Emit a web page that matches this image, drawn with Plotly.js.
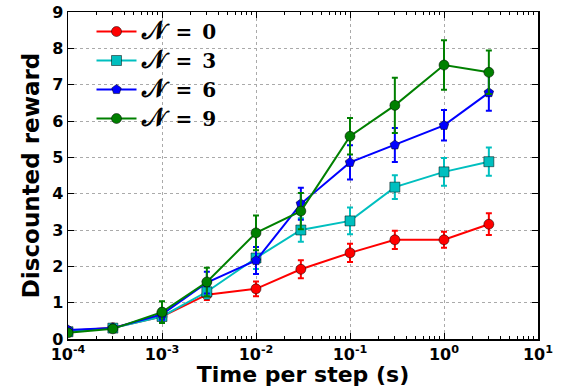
<!DOCTYPE html>
<html><head><meta charset="utf-8">
<script src="https://cdn.plot.ly/plotly-3.0.1.min.js"></script>
<style>body{margin:0;background:#fff}#c{width:563px;height:387px}</style>
</head><body><div id="c"></div>
<script>
const times = [1e-4, 3e-4, 1e-3, 3e-3, 1e-2, 3e-2, 1e-1, 3e-1, 1, 3];
const n0 = [0.22, 0.31, 0.62, 1.22, 1.38, 1.92, 2.37, 2.73, 2.73, 3.16];
const n0err = [0.08, 0.08, 0.1, 0.15, 0.2, 0.25, 0.25, 0.25, 0.22, 0.3];
const n3 = [0.2, 0.3, 0.62, 1.3, 2.23, 3.0, 3.25, 4.18, 4.6, 4.88];
const n3err = [0.06, 0.08, 0.12, 0.18, 0.3, 0.32, 0.37, 0.33, 0.38, 0.39];
const n6 = [0.25, 0.3, 0.68, 1.55, 2.16, 3.72, 4.86, 5.34, 5.88, 6.78];
const n6err = [0.06, 0.08, 0.15, 0.3, 0.37, 0.44, 0.47, 0.47, 0.42, 0.5];
const n9 = [0.17, 0.28, 0.74, 1.57, 2.92, 3.52, 5.58, 6.43, 7.54, 7.34];
const n9err = [0.06, 0.08, 0.3, 0.39, 0.48, 0.5, 0.5, 0.76, 0.68, 0.6];
const nValues = ['0', '3', '6', '9'];
const names = nValues.map(v => '<span style="font-size:25px">𝒩</span>\u2002=\u2002' + v);
const colors = ['#ff0000', '#00bfbf', '#0000ff', '#008000'];
const symbols = ['circle', 'square', 'pentagon', 'circle'];
const tickVals = [1e-4, 1e-3, 1e-2, 1e-1, 1, 10];
const tickText = ['10<sup>-4</sup>', '10<sup>-3</sup>', '10<sup>-2</sup>', '10<sup>-1</sup>', '10<sup>0</sup>', '10<sup>1</sup>'];
const yTicks = [0,1,2,3,4,5,6,7,8,9];

const ys = [n0, n3, n6, n9], es = [n0err, n3err, n6err, n9err];
const traces = ys.map((y, i) => ({
  x: times, y: y, name: names[i], type: 'scatter', mode: 'lines+markers',
  line: {color: colors[i], width: 2},
  marker: {symbol: symbols[i], size: 10, color: colors[i], line: {color: '#000', width: 0.5}},
  error_y: {type: 'data', array: es[i], visible: true, color: colors[i], thickness: 2, width: 3}
}));

const minor = [];
for (let e = -4; e < 1; e++) for (let m = 2; m <= 9; m++) minor.push(m * Math.pow(10, e));

const layout = {
  width: 563, height: 387,
  margin: {l: 68, r: 25, t: 12, b: 48},
  paper_bgcolor: '#fff', plot_bgcolor: '#fff',
  font: {family: 'DejaVu Sans', color: '#000'},
  showlegend: true,
  legend: {x: 0.05, y: 1.0, xanchor: 'left', yanchor: 'top', bgcolor: 'rgba(0,0,0,0)',
    font: {family: 'DejaVu Serif', size: 20, color: '#000', weight: 'bold'}, tracegroupgap: 0, itemwidth: 40},
  xaxis: {type: 'log', range: [-4, 1], tickmode: 'array', tickvals: tickVals, ticktext: tickText,
    ticks: 'inside', ticklen: 6, tickcolor: '#000', mirror: 'ticks', showline: true, linecolor: '#000', linewidth: 1.5,
    showgrid: true, gridcolor: '#aaa', griddash: 'dot', gridwidth: 1, zeroline: false,
    tickfont: {family: 'DejaVu Sans', size: 16, weight: 'bold'},
    minor: {tickmode: 'array', tickvals: minor, ticks: 'inside', ticklen: 3, tickcolor: '#000', showgrid: false},
    title: {text: 'Time per step (s)', font: {family: 'DejaVu Sans', size: 22, weight: 'bold'}, standoff: 6}},
  yaxis: {range: [0, 9], tickmode: 'array', tickvals: yTicks,
    ticks: 'inside', ticklen: 6, tickcolor: '#000', mirror: 'ticks', showline: true, linecolor: '#000', linewidth: 1.5,
    showgrid: true, gridcolor: '#aaa', griddash: 'dot', gridwidth: 1, zeroline: false,
    tickfont: {family: 'DejaVu Sans', size: 16, weight: 'bold'},
    title: {text: 'Discounted reward', font: {family: 'DejaVu Sans', size: 23, weight: 'bold'}, standoff: 6}}
};
Plotly.newPlot('c', traces, layout, {staticPlot: true});
</script></body></html>
